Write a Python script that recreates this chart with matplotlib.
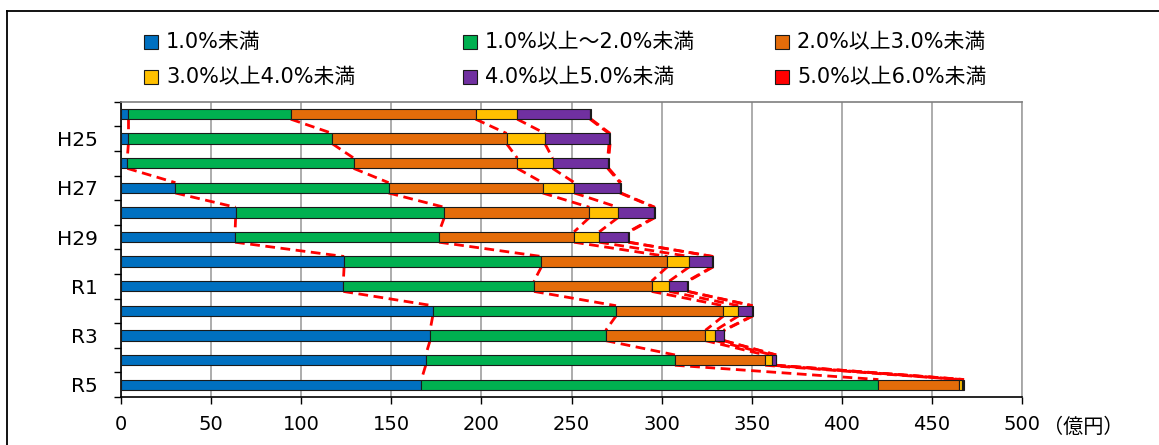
import numpy as np
import matplotlib
matplotlib.use("Agg")
import matplotlib.pyplot as plt
from matplotlib.patches import Rectangle
from matplotlib.lines import Line2D

plt.rcParams['font.family'] = ['DejaVu Sans', 'Noto Sans CJK JP']

# fiscal years, top to bottom
years = ['H24', 'H25', 'H26', 'H27', 'H28', 'H29', 'H30', 'R1', 'R2', 'R3', 'R4', 'R5']
# every other label is shown on the axis
year_labels = ['', 'H25', '', 'H27', '', 'H29', '', 'R1', '', 'R3', '', 'R5']

# amounts (億円) per interest-rate band
under_1 = [4.1, 4.1, 3.5, 30.2, 63.6, 63.3, 123.8, 123.4, 173.0, 171.5, 169.1, 166.7]
from_1_to_2 = [90.1, 113.2, 125.6, 118.3, 115.8, 113.2, 109.5, 105.8, 101.7, 97.5, 138.3, 253.6]
from_2_to_3 = [102.6, 96.7, 90.8, 85.5, 80.5, 74.9, 69.9, 65.3, 59.6, 55.3, 50.1, 44.6]
from_3_to_4 = [23.1, 21.3, 19.6, 17.6, 15.9, 14.0, 12.2, 9.8, 8.3, 5.5, 3.9, 1.8]
from_4_to_5 = [40.4, 35.5, 30.6, 25.3, 20.0, 16.1, 12.8, 10.0, 7.6, 4.6, 1.9, 0.8]
from_5_to_6 = [0.6, 0.6, 0.6, 0.6, 0.5, 0.5, 0.5, 0.5, 0.4, 0.4, 0.4, 0.4]

series_names = ['1.0%未満', '1.0%以上～2.0%未満', '2.0%以上3.0%未満',
                '3.0%以上4.0%未満', '4.0%以上5.0%未満', '5.0%以上6.0%未満']
series_colors = ['#0070C0', '#00B050', '#E46C0A', '#FFC000', '#7030A0', '#FF0000']

x_ticks = [0, 50, 100, 150, 200, 250, 300, 350, 400, 450, 500]

W, H = 1159, 445


def main():
    fig = plt.figure(figsize=(W / 100, H / 100), dpi=100)
    ax = fig.add_axes([121 / W, 1 - 397 / H, (1022 - 121) / W, (397 - 101.7) / H])

    data = np.array([under_1, from_1_to_2, from_2_to_3,
                     from_3_to_4, from_4_to_5, from_5_to_6]).T
    cum = np.cumsum(data, axis=1)
    n = len(years)
    y = np.arange(n)
    h = 0.42

    left = np.zeros(n)
    for k in range(data.shape[1]):
        ax.barh(y, data[:, k], left=left, height=h, color=series_colors[k],
                edgecolor='#1a1a1a', linewidth=0.8, zorder=3)
        left = left + data[:, k]

    # series lines between consecutive bars
    for k in range(data.shape[1]):
        for i in range(n - 1):
            ax.plot([cum[i, k], cum[i + 1, k]], [y[i] + h / 2, y[i + 1] - h / 2],
                    color='#FF0000', linestyle=(0, (3.5, 2)), linewidth=2.0, zorder=2)

    ax.set_xlim(0, 500)
    ax.set_ylim(n - 0.5, -0.5)
    ax.set_xticks(x_ticks)
    ax.tick_params(axis='x', length=5, width=1, pad=8, labelsize=14, color='black')

    ax.set_yticks(y)
    ax.set_yticklabels(year_labels)
    ax.tick_params(axis='y', which='major', length=0, pad=17, labelsize=14.5)
    ax.set_yticks(np.arange(-0.5, n, 1.0), minor=True)
    ax.tick_params(axis='y', which='minor', length=5, width=1, color='black')

    ax.xaxis.grid(True, color='#a6a6a6', linewidth=1.3)
    ax.set_axisbelow(True)
    ax.spines['left'].set_color('black')
    ax.spines['bottom'].set_color('black')
    ax.spines['left'].set_linewidth(1.2)
    ax.spines['bottom'].set_linewidth(1.2)
    ax.spines['top'].set_color('#7f7f7f')
    ax.spines['right'].set_color('#a6a6a6')
    ax.spines['top'].set_linewidth(1.2)
    ax.spines['right'].set_linewidth(1.3)

    fig.text(1043 / W, 1 - 427 / H, '（億円）', fontsize=14.5, va='center', ha='left',
             family=['Noto Sans CJK JP'])

    # legend, drawn by hand in two rows of three
    col_x = [144, 463, 775]
    row_y = [41.5, 77]
    for k, name in enumerate(series_names):
        cx = col_x[k % 3]
        cy = row_y[k // 3]
        fig.add_artist(Rectangle((cx / W, 1 - (cy + 7) / H), 14 / W, 14 / H,
                                 transform=fig.transFigure, facecolor=series_colors[k],
                                 edgecolor='#1a1a1a', linewidth=0.8))
        fig.text((cx + 22) / W, 1 - cy / H, name, fontsize=15, va='center', ha='left')

    # outer frame (left and top edges visible)
    fig.add_artist(Line2D([7 / W, 7 / W], [0, 1 - 11 / H], transform=fig.transFigure,
                          color='black', linewidth=1.3))
    fig.add_artist(Line2D([7 / W, 1], [1 - 11 / H, 1 - 11 / H], transform=fig.transFigure,
                          color='black', linewidth=1.3))

    fig.savefig('out.png', dpi=100)
    plt.close(fig)


if __name__ == '__main__':
    main()
